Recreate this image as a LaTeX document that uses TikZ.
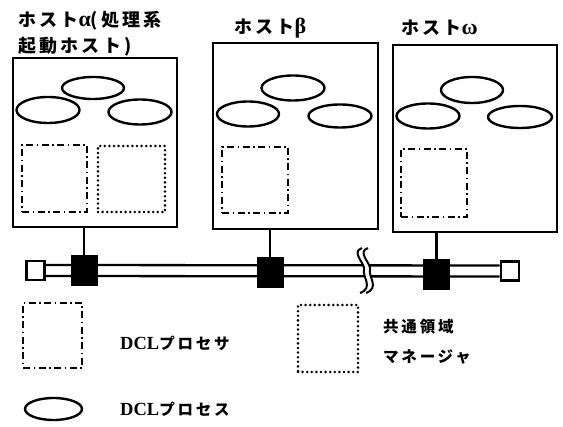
\documentclass[tikz,border=0pt]{standalone}
\usepackage{fontspec}
\setmainfont{Liberation Serif}
\newfontfamily\jp{Noto Sans CJK JP}[LetterSpace=18]
\newfontfamily\gr{Liberation Serif}
\usetikzlibrary{shapes.geometric}
\tikzset{
  host/.style={draw, line width=2.8pt, rectangle, inner sep=0pt},
  proc/.style={draw, line width=2.4pt, ellipse, inner sep=0pt},
  dcl/.style={draw, line width=2.3pt, rectangle, inner sep=0pt, dash pattern=on 7pt off 3.5pt on 1.5pt off 3.5pt},
  mgr/.style={draw, line width=2.8pt, rectangle, inner sep=0pt, line cap=round, dash pattern=on 0pt off 4.6pt},
  blk/.style={draw, fill=black, rectangle, inner sep=0pt, minimum width=26pt, minimum height=30pt},
  wht/.style={draw, line width=2.8pt, fill=white, rectangle, inner sep=0pt, minimum width=18pt, minimum height=19pt},
  ttl/.style={anchor=west, inner sep=0pt, font=\fontsize{18}{18}\selectfont\bfseries},
  lbl/.style={anchor=west, inner sep=0pt, font=\fontsize{15.5}{15.5}\selectfont\bfseries},
  wire/.style={line width=2.3pt},
}
\begin{document}
\begin{tikzpicture}[x=1pt,y=-1pt]
\useasboundingbox (0,0) rectangle (563,427);
% hosts
\node[host, minimum width=164pt, minimum height=169pt] (ha) at (95,142.5) {};
\node[host, minimum width=165pt, minimum height=186pt] (hb) at (295.5,136) {};
\node[host, minimum width=164pt, minimum height=187pt] (hw) at (475,138.5) {};
% titles
\node[ttl] (ta1) at (18,21) {\jp ホスト{\gr\fontsize{22}{22}\selectfont α}\jp (処理系};
\node[ttl] (ta2) at (18,47) {\jp 起動ホスト)};
\node[ttl] (tb) at (234,28) {\jp ホスト{\gr\fontsize{22}{22}\selectfont β}};
\node[ttl] (tw) at (401,28) {\jp ホスト{\gr\fontsize{22}{22}\selectfont ω}};
% ellipses host a
\node[proc, minimum width=62pt, minimum height=22pt] (a1) at (93,88) {};
\node[proc, minimum width=63pt, minimum height=26pt] (a2) at (48,110) {};
\node[proc, minimum width=63pt, minimum height=25pt] (a3) at (140,112) {};
% ellipses host b
\node[proc, minimum width=63pt, minimum height=25pt] (b1) at (293,88) {};
\node[proc, minimum width=62pt, minimum height=25pt] (b2) at (248,114) {};
\node[proc, minimum width=63pt, minimum height=23pt] (b3) at (340,116) {};
% ellipses host w
\node[proc, minimum width=62pt, minimum height=26pt] (w1) at (472,90) {};
\node[proc, minimum width=63pt, minimum height=25pt] (w2) at (428,116) {};
\node[proc, minimum width=64pt, minimum height=22pt] (w3) at (520,117) {};
% processors / managers
\node[dcl, minimum width=65pt, minimum height=67pt] (pa) at (54.5,178.5) {};
\node[mgr, minimum width=67pt, minimum height=66pt] (ma) at (131.5,179) {};
\node[dcl, minimum width=66pt, minimum height=66pt] (pb) at (255,180) {};
\node[dcl, minimum width=66pt, minimum height=68pt] (pw) at (434,183) {};
% bus
\node[wht] (wl) at (35.5,270.5) {};
\node[wht] (wr) at (510,271) {};
\node[blk] (sa) at (84,270.5) {};
\node[blk] (sb) at (270,272) {};
\node[blk] (sw) at (436.5,274) {};
\draw[wire] ([yshift=5.5pt]wl.east) -- ([yshift=5.5pt]wr.west);
\draw[wire] ([yshift=-5.5pt]wl.east) -- ([yshift=-5.5pt]wr.west);
\node[wht] at (wl) {};
\node[wht] at (wr) {};
\node[blk] at (sa) {};
\node[blk] at (sb) {};
\node[blk] at (sw) {};
% break mark
\coordinate (brk) at (364,270);
\fill[white] ([shift={(-2,-22)}]brk) .. controls ([shift={(-14,-18)}]brk) and ([shift={(2,-6)}]brk) .. ([shift={(0,0)}]brk)
  .. controls ([shift={(-2,6)}]brk) and ([shift={(10,18)}]brk) .. ([shift={(-4,23)}]brk)
  -- ([shift={(2,23)}]brk)
  .. controls ([shift={(16,18)}]brk) and ([shift={(4,6)}]brk) .. ([shift={(6,0)}]brk)
  .. controls ([shift={(8,-6)}]brk) and ([shift={(-8,-18)}]brk) .. ([shift={(4,-22)}]brk) -- cycle;
\draw[line width=2pt] ([shift={(-2,-22)}]brk) .. controls ([shift={(-14,-18)}]brk) and ([shift={(2,-6)}]brk) .. ([shift={(0,0)}]brk)
  .. controls ([shift={(-2,6)}]brk) and ([shift={(10,18)}]brk) .. ([shift={(-4,23)}]brk);
\draw[line width=2pt] ([shift={(4,-22)}]brk) .. controls ([shift={(-8,-18)}]brk) and ([shift={(8,-6)}]brk) .. ([shift={(6,0)}]brk)
  .. controls ([shift={(4,6)}]brk) and ([shift={(16,18)}]brk) .. ([shift={(2,23)}]brk);
% drops
\draw[wire] (sa.north) -- (sa.north |- ha.south);
\draw[wire] (sb.north) -- (sb.north |- hb.south);
\draw[wire] (sw.north) -- (sw.north |- hw.south);
% legend
\node[dcl, minimum width=59pt, minimum height=65pt] (lp) at (52.5,335.5) {};
\node[lbl] (lpt) at (120,343) {{\fontsize{18.5}{18.5}\selectfont DCL}{\jp プロセサ}};
\node[mgr, minimum width=60pt, minimum height=67pt] (lm) at (328,338.5) {};
\node[lbl] (lmt1) at (383,327) {\jp 共通領域};
\node[lbl] (lmt2) at (383,357) {\jp マネージャ};
\node[proc, minimum width=57pt, minimum height=22pt] (le) at (53.5,409) {};
\node[lbl] (let) at (120,409) {{\fontsize{18.5}{18.5}\selectfont DCL}{\jp プロセス}};
\end{tikzpicture}
\end{document}
